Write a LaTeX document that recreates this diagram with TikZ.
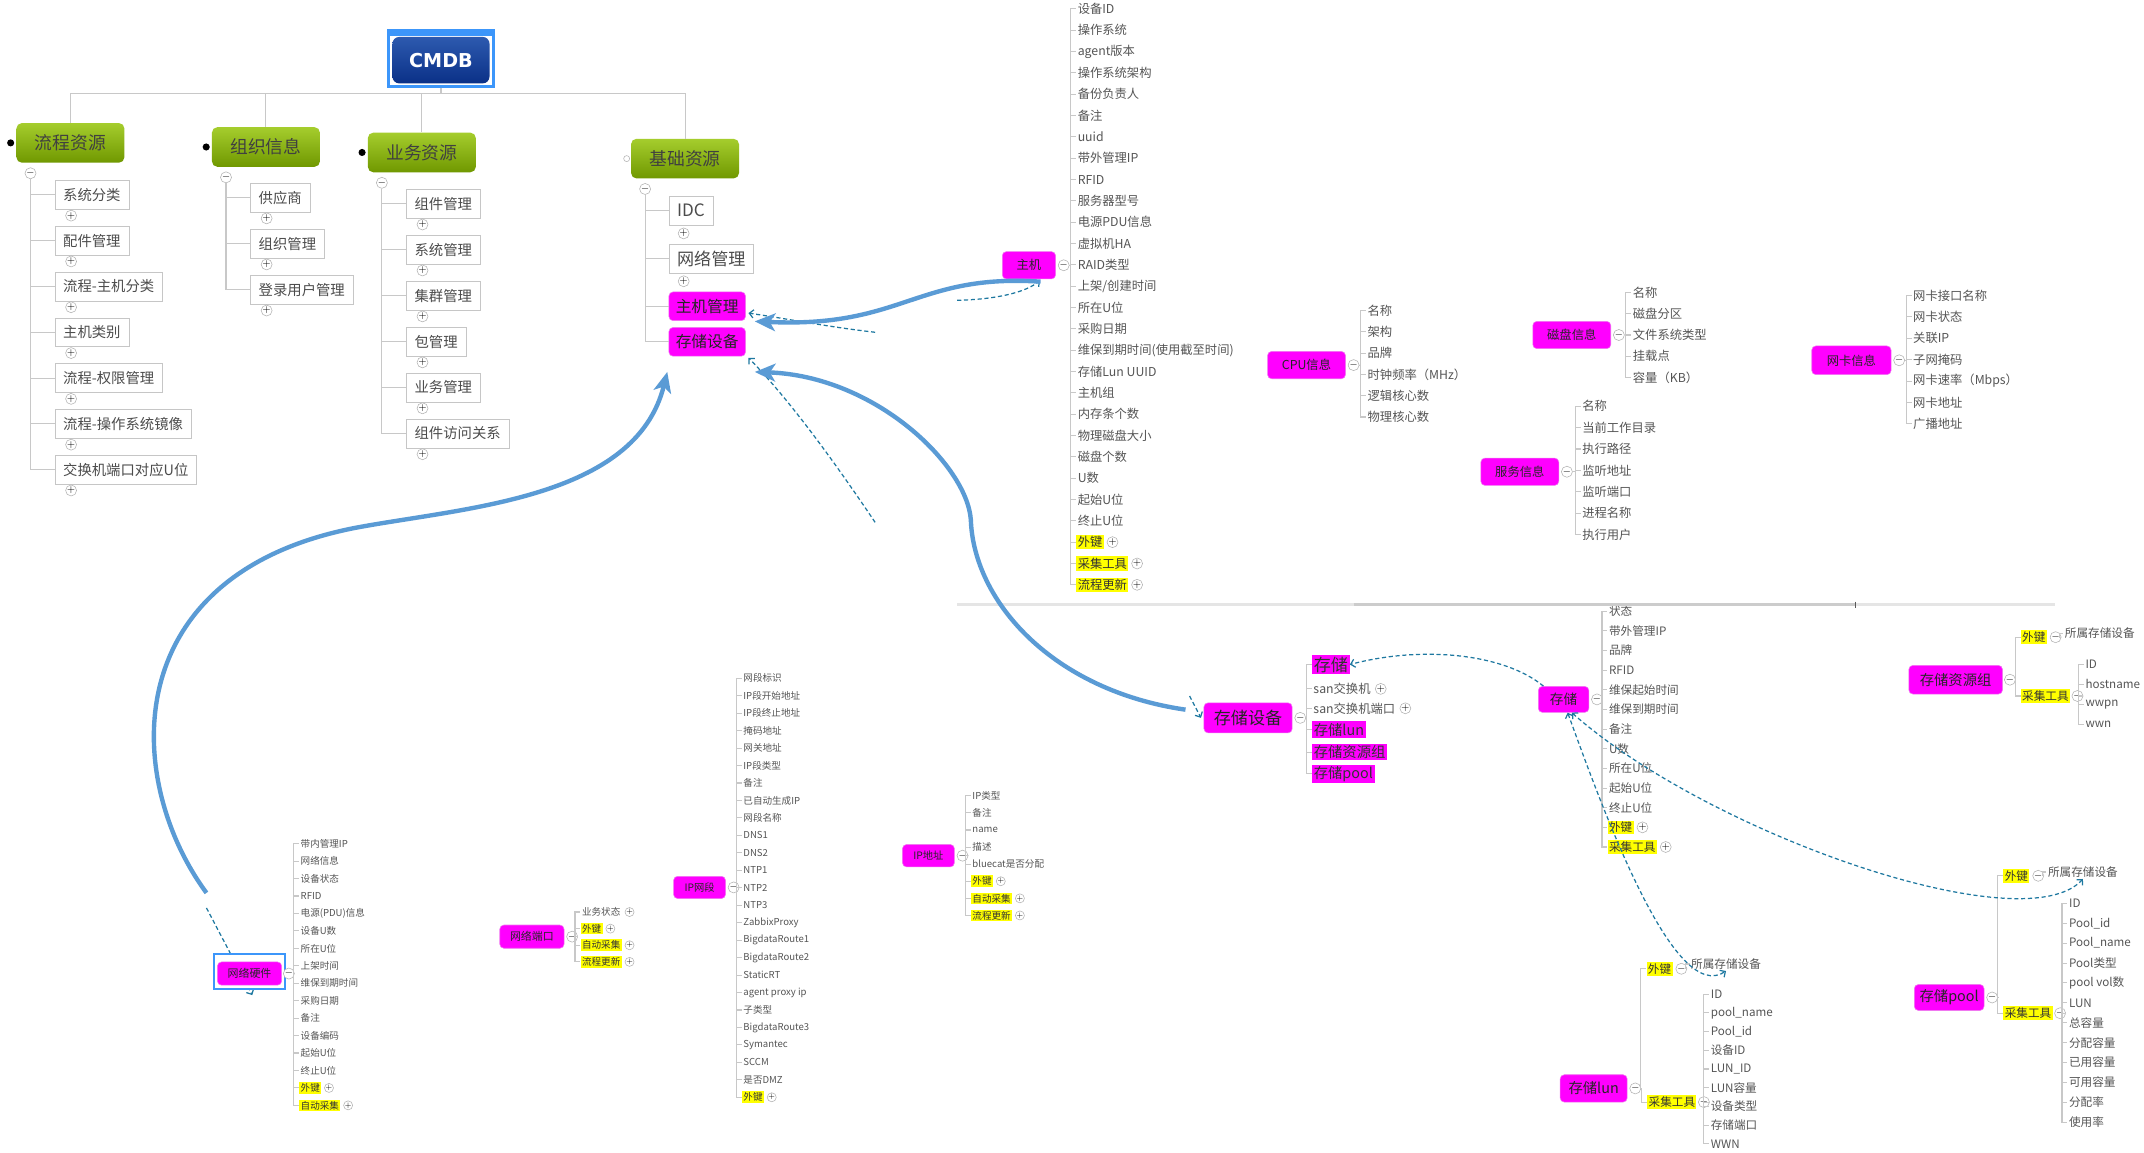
\documentclass[tikz,border=0pt]{standalone}
\usepackage{fontspec}
\setmainfont{Noto Sans CJK SC}
\newfontfamily\titlefont{DejaVu Sans}
\usepackage{xcolor}
\usetikzlibrary{arrows.meta}
\usetikzlibrary{positioning}
\usetikzlibrary{math}
\definecolor{hotpink}{RGB}{255, 0, 255}
\definecolor{hotedge}{RGB}{240, 120, 240}
\definecolor{leaflight}{RGB}{165, 205, 45}
\definecolor{leafdark}{RGB}{112, 152, 0}
\definecolor{cmdbblue}{RGB}{10, 48, 135}
\definecolor{cmdbtop}{RGB}{45, 90, 175}
\definecolor{selblue}{RGB}{60, 150, 250}
\definecolor{arcblue}{RGB}{90, 155, 213}
\definecolor{relblue}{RGB}{30, 120, 160}
\definecolor{branchgrey}{RGB}{200, 200, 200}
\definecolor{attrgrey}{RGB}{85, 85, 85}
\definecolor{keyyellow}{RGB}{255, 255, 0}

\tikzset{
  branch/.style={draw=branchgrey, line width=0.8pt},
  fold/.style={circle, draw=gray!60, fill=white, inner sep=0pt, minimum size=7pt, font=\fontsize{7}{7}\selectfont},
  smallfold/.style={fold, minimum size=5.5pt, font=\fontsize{5.5}{5.5}\selectfont},
  topic/.style={top color=leaflight, bottom color=leafdark, rounded corners=4pt, minimum width=79pt, minimum height=29pt, font=\fontsize{13}{13}\selectfont, text=black!75},
  subtopic/.style={draw=gray!45, fill=white, anchor=west, minimum height=21pt, inner xsep=6pt, font=\fontsize{10.5}{11}\selectfont, text=black!70},
  hot/.style={fill=hotpink, draw=hotedge, rounded corners=3pt, inner sep=0pt, text=black!85},
  hilite/.style={fill=hotpink, anchor=west, inner sep=1.2pt, text=black!80},
  attr/.style={anchor=west, inner sep=1pt, font=\fontsize{9}{9}\selectfont, text=attrgrey},
  midattr/.style={attr, font=\fontsize{8.5}{8.5}\selectfont},
  smallattr/.style={attr, font=\fontsize{7}{7}\selectfont},
  fkey/.style={fill=keyyellow, text=black!80},
  relation/.style={draw=relblue, line width=0.9pt, dash pattern=on 3pt off 2pt, -{Straight Barb[length=3pt,width=6pt]}},
  bigarc/.style={draw=arcblue, line width=3.2pt, -{Stealth[length=15pt,width=13pt,inset=4pt]}},
}

\begin{document}
\begin{tikzpicture}[x=1pt, y=-1pt]
\tikzmath{
\hoststep = 15.6;
\infostep = 15.6;
\storestep = 14.37;
\netstep = 12.76;
}
\useasboundingbox (0,0) rectangle (1568,843);
\fill[white] (0,0) rectangle (1568,843);

% root
\node[fill=selblue, minimum width=79pt, minimum height=43pt, inner sep=0pt] (cmdbsel) at (322.5,42.5) {};
\fill[white] (285,26) rectangle (360,62);
\node[top color=cmdbtop, bottom color=cmdbblue, rounded corners=5pt, minimum width=71pt, minimum height=34pt, text=white, font=\titlefont\bfseries\fontsize{14}{14}\selectfont] (cmdb) at (322.5,44) {CMDB};

\node[topic] (flow) at (51.5,104.5) {流程资源};
\node[topic] (org) at (194.5,107.5) {组织信息};
\node[topic] (biz) at (308.5,111.5) {业务资源};
\node[topic] (base) at (501,116) {基础资源};
\foreach \c in {flow,org,biz,base}
  \draw[branch] (cmdbsel.south) -- ++(0,4) -| (\c.north);
\foreach \c in {flow,org,biz}
  \fill ([xshift=-4pt]\c.west) circle (2.6pt);
\draw[gray!60, fill=white] ([xshift=-3pt]base.west) circle (2.2pt);

% flow
\node[fold] (flowf) at ([shift={(10.5,7.5)}]flow.south west) {$-$};
\foreach \lbl [count=\i] in {系统分类,配件管理,流程-主机分类,主机类别,流程-权限管理,流程-操作系统镜像,交换机端口对应U位}{
  \node[subtopic] (flow\i) at (40,{142.5+33.5*(\i-1)}) {\lbl};
  \node[fold] (flowp\i) at ([shift={(12,4.5)}]flow\i.south west) {$+$};
  \draw[branch] (flowf.south) |- (flow\i.west);
}

% org
\node[fold] (orgf) at ([shift={(10.5,7.5)}]org.south west) {$-$};
\foreach \lbl [count=\i] in {供应商,组织管理,登录用户管理}{
  \node[subtopic] (org\i) at (183,{144.5+33.7*(\i-1)}) {\lbl};
  \node[fold] (orgp\i) at ([shift={(12,4.5)}]org\i.south west) {$+$};
  \draw[branch] (orgf.south) |- (org\i.west);
}

% biz
\node[fold] (bizf) at ([shift={(10.5,7.5)}]biz.south west) {$-$};
\foreach \lbl [count=\i] in {组件管理,系统管理,集群管理,包管理,业务管理,组件访问关系}{
  \node[subtopic] (biz\i) at (297,{149+33.6*(\i-1)}) {\lbl};
  \node[fold] (bizp\i) at ([shift={(12,4.5)}]biz\i.south west) {$+$};
  \draw[branch] (bizf.south) |- (biz\i.west);
}

% base
\node[fold] (basef) at ([shift={(10.5,7.5)}]base.south west) {$-$};
\node[subtopic, font=\fontsize{12.5}{13}\selectfont] (idc) at (489,154) {IDC};
\node[subtopic, font=\fontsize{12.5}{13}\selectfont] (netmgmt) at (489,189) {网络管理};
\node[fold] (idcp) at ([shift={(11,6)}]idc.south west) {$+$};
\node[fold] (netmgmtp) at ([shift={(11,6)}]netmgmt.south west) {$+$};
\node[hot, anchor=west, minimum width=56pt, minimum height=21pt, font=\fontsize{11.5}{12}\selectfont] (hostmgmt) at (489,224) {主机管理};
\node[hot, anchor=west, minimum width=56pt, minimum height=21pt, font=\fontsize{11.5}{12}\selectfont] (store) at (489,250) {存储设备};
\foreach \c in {idc,netmgmt,hostmgmt,store}
  \draw[branch] (basef.south) |- (\c.west);

% host
\node[hot, minimum width=39pt, minimum height=20pt, font=\fontsize{9}{9}\selectfont] (host) at (752.5,194) {主机};
\node[fold, right=1.5pt of host] (hostf) {$-$};
\foreach \lbl [count=\i] in {设备ID,操作系统,agent版本,操作系统架构,备份负责人,备注,uuid,带外管理IP,RFID,服务器型号,电源PDU信息,虚拟机HA,RAID类型,上架/创建时间,所在U位,采购日期,维保到期时间(使用截至时间),存储Lun UUID,主机组,内存条个数,物理磁盘大小,磁盘个数,U数,起始U位,终止U位}
  \node[attr] (host\i) at (787,{6.5+\hoststep*(\i-1)}) {\lbl};
\foreach \lbl [count=\i from 26] in {外键,采集工具,流程更新}{
  \node[attr, fkey] (host\i) at (787,{6.5+\hoststep*(\i-1)}) {\lbl};
  \node[fold, right=2pt of host\i] (hostp\i) {$+$};
}
\foreach \i in {1,...,28}
  \draw[branch] (hostf.east) -| ([xshift=-4pt]host\i.west) -- (host\i.west);

% cpu
\node[hot, minimum width=57pt, minimum height=20pt, font=\fontsize{9}{9}\selectfont] (cpu) at (955.5,267) {CPU信息};
\node[fold, right=1.5pt of cpu] (cpuf) {$-$};
\foreach \lbl [count=\i] in {名称,架构,品牌,时钟频率（MHz）,逻辑核心数,物理核心数}{
  \node[attr] (cpu\i) at (999,{227+\infostep*(\i-1)}) {\lbl};
  \draw[branch] (cpuf.east) -| ([xshift=-4pt]cpu\i.west) -- (cpu\i.west);
}

% disk
\node[hot, minimum width=57pt, minimum height=20pt, font=\fontsize{9}{9}\selectfont] (disk) at (1149.5,245) {磁盘信息};
\node[fold, right=1.5pt of disk] (diskf) {$-$};
\foreach \lbl [count=\i] in {名称,磁盘分区,文件系统类型,挂载点,容量（KB）}{
  \node[attr] (disk\i) at (1193,{214+15.5*(\i-1)}) {\lbl};
  \draw[branch] (diskf.east) -| ([xshift=-4pt]disk\i.west) -- (disk\i.west);
}

% service
\node[hot, minimum width=57pt, minimum height=20pt, font=\fontsize{9}{9}\selectfont] (svc) at (1111.5,345) {服务信息};
\node[fold, right=1.5pt of svc] (svcf) {$-$};
\foreach \lbl [count=\i] in {名称,当前工作目录,执行路径,监听地址,监听端口,进程名称,执行用户}{
  \node[attr] (svc\i) at (1156,{297+15.67*(\i-1)}) {\lbl};
  \draw[branch] (svcf.east) -| ([xshift=-4pt]svc\i.west) -- (svc\i.west);
}

% nic
\node[hot, minimum width=58pt, minimum height=21pt, font=\fontsize{9}{9}\selectfont] (nic) at (1354,263.5) {网卡信息};
\node[fold, right=1.5pt of nic] (nicf) {$-$};
\foreach \lbl [count=\i] in {网卡接口名称,网卡状态,关联IP,子网掩码,网卡速率（Mbps）,网卡地址,广播地址}{
  \node[attr] (nic\i) at (1398,{216+15.67*(\i-1)}) {\lbl};
  \draw[branch] (nicf.east) -| ([xshift=-4pt]nic\i.west) -- (nic\i.west);
}

% storage devices
\node[hot, minimum width=64.5pt, minimum height=22pt, font=\fontsize{12.5}{13}\selectfont] (bigstore) at (912.75,525) {存储设备};
\node[fold, right=1.5pt of bigstore] (bigstoref) {$-$};
\node[hilite, font=\fontsize{12.5}{13}\selectfont] (si1) at (959.4,486) {存储};
\node[midattr, font=\fontsize{9}{9}\selectfont] (si2) at (959.4,503.8) {san交换机};
\node[midattr, font=\fontsize{9}{9}\selectfont] (si3) at (959.4,518) {san交换机端口};
\node[fold, right=2pt of si2] (sip2) {$+$};
\node[fold, right=2pt of si3] (sip3) {$+$};
\node[hilite, font=\fontsize{10.5}{11}\selectfont] (si4) at (959.4,533.6) {存储lun};
\node[hilite, font=\fontsize{10.5}{11}\selectfont] (si5) at (959.4,550) {存储资源组};
\node[hilite, font=\fontsize{10.5}{11}\selectfont] (si6) at (959.4,566) {存储pool};
\foreach \i in {1,...,6}
  \draw[branch] (bigstoref.east) -| ([xshift=-4pt]si\i.west) -- (si\i.west);

% storage
\node[hot, minimum width=37pt, minimum height=19pt, font=\fontsize{10}{10}\selectfont] (stor) at (1143.5,511.5) {存储};
\node[fold, right=1.5pt of stor] (storf) {$-$};
\foreach \lbl [count=\i] in {状态,带外管理IP,品牌,RFID,维保起始时间,维保到期时间,备注,U数,所在U位,起始U位,终止U位}
  \node[midattr] (stor\i) at (1175.6,{447+\storestep*(\i-1)}) {\lbl};
\foreach \lbl [count=\i from 12] in {外键,采集工具}{
  \node[midattr, fkey] (stor\i) at (1175.6,{447+\storestep*(\i-1)}) {\lbl};
  \node[fold, right=2pt of stor\i] (storp\i) {$+$};
}
\foreach \i in {1,...,13}
  \draw[branch] (storf.east) -| ([xshift=-4pt]stor\i.west) -- (stor\i.west);

% separator
\draw[line width=2.5pt, gray!20] (700,442) -- (1503,442);
\draw[line width=2.5pt, gray!40] (990,442) -- (1357,442);
\draw[line width=1pt, gray!70!black] (1357,440) -- (1357,444.5);

% storage group
\node[hot, minimum width=68.5pt, minimum height=21pt, font=\fontsize{10.5}{11}\selectfont] (grp) at (1430.25,497.1) {存储资源组};
\node[fold, right=1pt of grp] (grpf) {$-$};
\node[midattr, fkey] (grp1) at (1477.7,466) {外键};
\node[midattr, fkey] (grp2) at (1477.7,509) {采集工具};
\node[fold, right=2pt of grp1] (grp1f) {$-$};
\node[fold, right=1pt of grp2] (grp2f) {$-$};
\node[midattr] (grpown) at (1509,463) {所属存储设备};
\foreach \i in {1,2}
  \draw[branch] (grpf.east) -| ([xshift=-4pt]grp\i.west) -- (grp\i.west);
\draw[branch] (grp1f.east) -| ([xshift=-3pt]grpown.west) -- (grpown.west);
\foreach \lbl [count=\i] in {ID,hostname,wwpn,wwn}{
  \node[midattr] (grpc\i) at (1524,{485.7+14.77*(\i-1)}) {\lbl};
  \draw[branch] (grp2f.east) -| ([xshift=-4pt]grpc\i.west) -- (grpc\i.west);
}

% storage lun
\node[hot, minimum width=49pt, minimum height=20pt, font=\fontsize{10.5}{11}\selectfont] (lun) at (1165.5,796) {存储lun};
\node[fold, right=1.5pt of lun] (lunf) {$-$};
\node[midattr, fkey] (lun1) at (1204,708.5) {外键};
\node[midattr, fkey] (lun2) at (1204.5,806) {采集工具};
\node[fold, right=2pt of lun1] (lun1f) {$-$};
\node[fold, right=1pt of lun2] (lun2f) {$-$};
\node[midattr] (lunown) at (1235.6,705) {所属存储设备};
\foreach \i in {1,2}
  \draw[branch] (lunf.east) -| ([xshift=-4pt]lun\i.west) -- (lun\i.west);
\draw[branch] (lun1f.east) -| ([xshift=-3pt]lunown.west) -- (lunown.west);
\foreach \lbl [count=\i] in {ID,pool\_name,Pool\_id,设备ID,LUN\_ID,LUN容量,设备类型,存储端口,WWN}{
  \node[midattr] (lunc\i) at (1250,{727+13.7*(\i-1)}) {\lbl};
  \draw[branch] (lun2f.east) -| ([xshift=-4pt]lunc\i.west) -- (lunc\i.west);
}

% storage pool
\node[hot, minimum width=51pt, minimum height=19pt, font=\fontsize{10.5}{11}\selectfont] (pool) at (1425.5,729.5) {存储pool};
\node[fold, right=1.5pt of pool] (poolf) {$-$};
\node[midattr, fkey] (pool1) at (1465,640.5) {外键};
\node[midattr, fkey] (pool2) at (1465,741) {采集工具};
\node[fold, right=2pt of pool1] (pool1f) {$-$};
\node[fold, right=1pt of pool2] (pool2f) {$-$};
\node[midattr] (poolown) at (1496.6,637.7) {所属存储设备};
\foreach \i in {1,2}
  \draw[branch] (poolf.east) -| ([xshift=-4pt]pool\i.west) -- (pool\i.west);
\draw[branch] (pool1f.east) -| ([xshift=-3pt]poolown.west) -- (poolown.west);
\foreach \lbl [count=\i] in {ID,Pool\_id,Pool\_name,Pool类型,pool vol数,LUN,总容量,分配容量,已用容量,可用容量,分配率,使用率}{
  \node[midattr] (poolc\i) at (1512,{660.7+14.54*(\i-1)}) {\lbl};
  \draw[branch] (pool2f.east) -| ([xshift=-4pt]poolc\i.west) -- (poolc\i.west);
}

% network hardware
\coordinate (rel5) at (151,664);
\node[draw=selblue, line width=1.5pt, fill=white, minimum width=52pt, minimum height=25pt, inner sep=0pt] (hwsel) at (182.5,710.5) {};
\draw[relation] (rel5) -- ([shift={(2,4)}]hwsel.south);
\node[draw=selblue, line width=1.5pt, fill=white, minimum width=52pt, minimum height=25pt, inner sep=0pt] (hwframe) at (hwsel) {};
\node[hot, minimum width=47pt, minimum height=17pt, font=\fontsize{8}{8}\selectfont] (hw) at (182.5,712) {网络硬件};
\node[fold] (hwf) at ([shift={(2,1.5)}]hwsel.east) {$-$};
\foreach \lbl [count=\i] in {带内管理IP,网络信息,设备状态,RFID,电源(PDU)信息,设备U数,所在U位,上架时间,维保到期时间,采购日期,备注,设备编码,起始U位,终止U位}
  \node[smallattr] (hw\i) at (218.7,{617+\netstep*(\i-1)}) {\lbl};
\foreach \lbl [count=\i from 15] in {外键,自动采集}{
  \node[smallattr, fkey] (hw\i) at (218.7,{617+\netstep*(\i-1)}) {\lbl};
  \node[smallfold, right=2pt of hw\i] (hwp\i) {$+$};
}
\foreach \i in {1,...,16}
  \draw[branch] (hwf.east) -| ([xshift=-4pt]hw\i.west) -- (hw\i.west);

% network port
\node[hot, minimum width=47pt, minimum height=17pt, font=\fontsize{8}{8}\selectfont] (port) at (389,685) {网络端口};
\node[fold, right=1.5pt of port] (portf) {$-$};
\node[smallattr] (port1) at (424.5,667) {业务状态};
\foreach \lbl [count=\i from 2] in {外键,自动采集,流程更新}
  \node[smallattr, fkey] (port\i) at (424.5,{667+12.15*(\i-1)}) {\lbl};
\foreach \i in {1,...,4}{
  \node[smallfold, right=2pt of port\i] (portp\i) {$+$};
  \draw[branch] (portf.east) -| ([xshift=-4pt]port\i.west) -- (port\i.west);
}

% ip segment
\node[hot, minimum width=38pt, minimum height=16.3pt, font=\fontsize{7.5}{7.5}\selectfont] (seg) at (511.6,649) {IP网段};
\node[fold, right=1.5pt of seg] (segf) {$-$};
\foreach \lbl [count=\i] in {网段标识,IP段开始地址,IP段终止地址,掩码地址,网关地址,IP段类型,备注,已自动生成IP,网段名称,DNS1,DNS2,NTP1,NTP2,NTP3,ZabbixProxy,BigdataRoute1,BigdataRoute2,StaticRT,agent proxy ip,子类型,BigdataRoute3,Symantec,SCCM,是否DMZ}
  \node[smallattr] (seg\i) at (542.5,{496+12.77*(\i-1)}) {\lbl};
\node[smallattr, fkey] (seg25) at (542.5,{496+12.77*24}) {外键};
\node[smallfold, right=2pt of seg25] (segp25) {$+$};
\foreach \i in {1,...,25}
  \draw[branch] (segf.east) -| ([xshift=-4pt]seg\i.west) -- (seg\i.west);

% ip address
\node[hot, minimum width=38pt, minimum height=16.4pt, font=\fontsize{7.5}{7.5}\selectfont] (ipaddr) at (679,625.8) {IP地址};
\node[fold, right=1.5pt of ipaddr] (ipaddrf) {$-$};
\foreach \lbl [count=\i] in {IP类型,备注,name,描述,bluecat是否分配}
  \node[smallattr] (ip\i) at (710,{582+12.5*(\i-1)}) {\lbl};
\foreach \lbl [count=\i from 6] in {外键,自动采集,流程更新}{
  \node[smallattr, fkey] (ip\i) at (710,{582+12.5*(\i-1)}) {\lbl};
  \node[smallfold, right=2pt of ip\i] (ipp\i) {$+$};
}
\foreach \i in {1,...,8}
  \draw[branch] (ipaddrf.east) -| ([xshift=-4pt]ip\i.west) -- (ip\i.west);

% relations
\coordinate (rel1) at (640,243);
\coordinate (rel2) at (700,219.6);
\coordinate (rel3) at (640,382);
\coordinate (rel4) at (870,509);
\draw[relation] (rel1) .. controls (605,239) and (575,233) .. ([shift={(2,5)}]hostmgmt.east);
\draw[relation] (rel2) .. controls (728,219) and (750,214) .. ([shift={(8,1)}]host.south);
\draw[relation] (rel3) .. controls (605,330) and (575,290) .. ([shift={(2,1)}]store.south east);
\draw[relation] (rel4) -- ([shift={(-2,0)}]bigstore.west);
\draw[relation] ([shift={(4,0)}]stor.north west) .. controls (1100,478) and (1040,472) .. (si1.east);
\draw[relation, {Straight Barb[length=3pt,width=6pt]}-{Straight Barb[length=3pt,width=6pt]}] ([shift={(3,0)}]stor.south) .. controls (1175,600) and (1225,735) .. (lunown.south);
\draw[relation, {Straight Barb[length=3pt,width=6pt]}-{Straight Barb[length=3pt,width=6pt]}] ([shift={(6,0)}]stor.south) .. controls (1250,610) and (1480,690) .. (poolown.south);

% big arcs
\coordinate (hwtail) at (151,653);
\coordinate (basetip) at (488,272);
\coordinate (storetail) at (867,519);
\coordinate (storetip) at (552,272);
\coordinate (hosttail) at (761,206);
\coordinate (hmtip) at (552,235);
\draw[bigarc] (hwtail) .. controls (90,570) and (85,420) .. (260,386) .. controls (340,371) and (465,365) .. (basetip);
\draw[bigarc] (storetail) .. controls (770,505) and (712,440) .. (710,380) .. controls (707,340) and (640,275) .. (storetip);
\draw[bigarc] (hosttail) .. controls (670,200) and (660,240) .. (hmtip);
\end{tikzpicture}
\end{document}
